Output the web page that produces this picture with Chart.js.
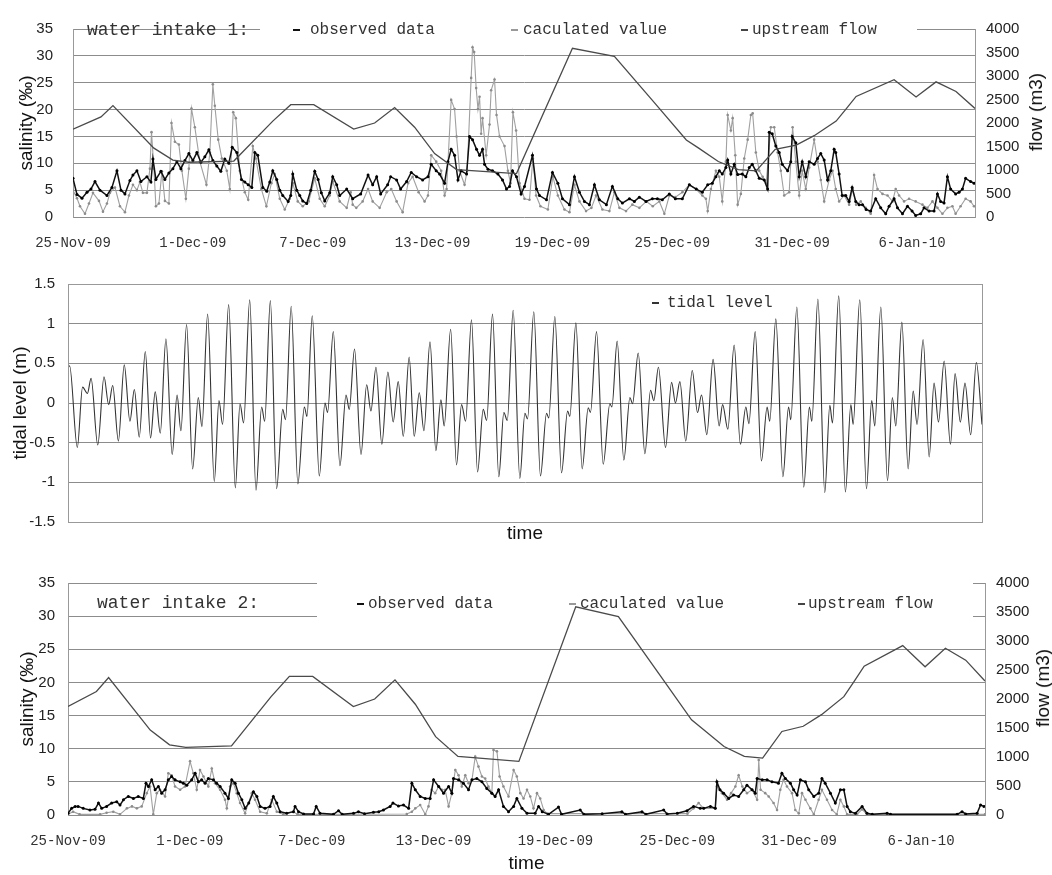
<!DOCTYPE html>
<html>
<head>
<meta charset="utf-8">
<script src="https://cdn.jsdelivr.net/npm/chart.js@4.4.1/dist/chart.umd.min.js"></script>
<style>
  body { margin: 0; background: #fff; }
  #wrap { position: relative; width: 1052px; height: 875px; overflow: hidden; }
  canvas { position: absolute; left: 0; }
  .lg { position: absolute; font-family: "Liberation Mono", "DejaVu Sans Mono", monospace; font-size: 16px; line-height: 20px; color: #333; white-space: nowrap; }
  .big { font-size: 18px; line-height: 22px; color: #333; }
  .mk { position: absolute; height: 2px; }
  .ttl { position: absolute; font-family: "Liberation Sans", Arial, sans-serif; font-size: 19px; color: #111; white-space: nowrap; transform: translate(-50%, -50%) rotate(-90deg); }
</style>
</head>
<body>
<div id="wrap">
  <canvas id="c1" width="1052" height="256" style="top:0"></canvas>
  <canvas id="c2" width="1052" height="300" style="top:256px"></canvas>
  <canvas id="c3" width="1052" height="315" style="top:560px"></canvas>

  <div class="lg big" style="left:87px;top:19px">water intake 1:</div>
  <div class="mk" style="left:293px;top:29px;width:7px;background:#111"></div>
  <div class="lg" style="left:310px;top:20px">observed data</div>
  <div class="mk" style="left:511px;top:29px;width:7px;background:#999"></div>
  <div class="lg" style="left:523px;top:20px">caculated value</div>
  <div class="mk" style="left:741px;top:29px;width:7px;background:#444"></div>
  <div class="lg" style="left:752px;top:20px">upstream flow</div>
  <div class="ttl" style="left:1036px;top:112px">flow (m3)</div>

  <div class="mk" style="left:652px;top:302px;width:7px;background:#333"></div>
  <div class="lg" style="left:667px;top:293px">tidal level</div>

  <div class="lg big" style="left:97px;top:592px">water intake 2:</div>
  <div class="mk" style="left:357px;top:603px;width:7px;background:#111"></div>
  <div class="lg" style="left:368px;top:594px">observed data</div>
  <div class="mk" style="left:569px;top:603px;width:7px;background:#999"></div>
  <div class="lg" style="left:580px;top:594px">caculated value</div>
  <div class="mk" style="left:798px;top:603px;width:7px;background:#444"></div>
  <div class="lg" style="left:808px;top:594px">upstream flow</div>
  <div class="ttl" style="left:1043px;top:688px">flow (m3)</div>
</div>

<script>
// x values are days after 25-Nov-09 00:00
const dayTicks = [0, 6, 12, 18, 24, 30, 36, 42];
const dayLabels = ['25-Nov-09', '1-Dec-09', '7-Dec-09', '13-Dec-09', '19-Dec-09', '25-Dec-09', '31-Dec-09', '6-Jan-10'];

// upstream flow (m3), same record in both intake panels
const flow = [[0,1870],[1.4,2130],[2.0,2370],[4.05,1465],[5.0,1210],[5.8,1165],[8.05,1190],[10.0,2040],[10.9,2390],
  [12.05,2390],[14.05,1870],[15.1,2000],[16.1,2330],[17.1,1910],[18.1,1350],[19.2,1010],[22.2,925],[25.0,3590],
  [27.1,3420],[29.1,2435],[30.7,1640],[31.3,1470],[32.3,1180],[33.3,1010],[34.2,980],[35.15,1440],[36.2,1530],
  [37.1,1730],[38.2,2040],[38.7,2300],[39.2,2565],[41.1,2920],[42.2,2555],[43.2,2875],[44.2,2670],[45.15,2310]];

// water intake 1 salinity
const obs1 = [[0,7.2],[0.2,4.2],[0.45,3.5],[0.7,4.6],[0.9,5.2],[1.1,6.6],[1.35,5.0],[1.7,4.0],[1.95,5.5],[2.2,8.6],
  [2.4,5.0],[2.6,4.3],[2.85,6.8],[3.0,7.8],[3.2,8.6],[3.4,6.6],[3.7,7.5],[3.9,6.5],[4.0,10.8],[4.15,7.0],[4.4,8.5],
  [4.6,7.0],[4.8,8.2],[5.0,9.0],[5.2,10.3],[5.4,9.0],[5.6,10.5],[5.8,11.8],[6.0,10.5],[6.2,12.0],[6.4,10.2],[6.6,11.2],
  [6.8,12.5],[7.0,10.5],[7.2,9.5],[7.4,8.5],[7.6,10.8],[7.8,10.0],[7.97,13.0],[8.2,12.0],[8.43,7.0],[8.6,6.5],[8.77,6.0],
  [8.95,5.5],[9.1,12.0],[9.25,11.5],[9.5,5.5],[9.7,4.8],[9.85,6.5],[10.0,8.6],[10.2,7.0],[10.35,5.0],[10.5,4.0],
  [10.77,2.9],[10.9,4.0],[11.0,8.0],[11.2,5.0],[11.35,4.0],[11.5,3.0],[11.7,2.5],[11.9,5.0],[12.1,8.5],[12.27,7.0],
  [12.43,4.5],[12.6,3.0],[12.85,4.5],[13.0,7.5],[13.2,6.0],[13.35,4.0],[13.7,5.2],[14.0,3.4],[14.4,4.3],[14.77,7.8],
  [15.0,6.0],[15.2,7.5],[15.4,4.3],[15.75,6.0],[15.9,7.5],[16.2,6.9],[16.4,5.2],[16.7,6.6],[16.93,8.3],[17.2,7.5],
  [17.5,6.9],[17.77,7.5],[17.93,9.8],[18.18,8.6],[18.35,8.0],[18.6,6.3],[18.77,10.3],[18.93,12.6],[19.1,11.5],
  [19.27,6.9],[19.43,8.6],[19.7,8.0],[19.85,15.0],[20.0,14.4],[20.2,12.6],[20.35,11.5],[20.5,12.6],[20.6,9.8],
  [20.77,8.9],[21.0,8.6],[21.27,8.0],[21.5,6.9],[21.7,5.2],[21.85,5.7],[22.0,8.6],[22.2,7.5],[22.43,4.3],[22.6,5.7],
  [23.0,11.5],[23.2,5.2],[23.35,4.0],[23.7,3.2],[24.0,8.3],[24.27,6.3],[24.5,3.4],[24.85,2.3],[25.1,7.5],[25.35,4.6],
  [25.6,2.9],[25.85,2.3],[26.1,6.0],[26.35,3.2],[26.7,2.3],[27.0,5.7],[27.27,3.4],[27.5,2.6],[27.85,3.4],[28.1,2.9],
  [28.35,3.7],[28.68,2.9],[29.0,3.4],[29.25,3.4],[29.5,3.2],[29.85,4.3],[30.15,3.4],[30.5,3.4],[30.85,6.0],[31.2,5.2],
  [31.5,4.6],[31.77,6.0],[32.0,6.3],[32.18,7.5],[32.35,8.6],[32.5,8.0],[32.68,9.2],[32.77,10.6],[32.93,8.0],[33.1,9.8],
  [33.27,7.9],[33.5,8.0],[33.68,7.5],[33.85,9.2],[34.0,9.8],[34.18,8.6],[34.35,7.2],[34.6,6.9],[34.77,5.2],[34.85,15.8],
  [35.0,15.5],[35.18,13.2],[35.35,12.0],[35.5,9.8],[35.77,8.6],[35.93,10.3],[36.0,15.0],[36.18,13.8],[36.35,7.5],
  [36.5,10.3],[36.68,7.5],[36.85,10.3],[37.1,9.8],[37.27,10.9],[37.43,11.8],[37.6,10.6],[37.77,6.9],[37.93,8.6],
  [38.1,12.6],[38.18,12.0],[38.35,8.0],[38.5,4.0],[38.68,4.0],[38.85,2.9],[39.0,5.5],[39.18,2.9],[39.35,2.3],[39.52,2.3],
  [39.7,1.4],[39.93,1.1],[40.18,3.4],[40.43,1.7],[40.68,0.6],[40.85,2.0],[41.1,3.4],[41.27,1.7],[41.52,0.6],[41.77,2.0],
  [42.0,1.1],[42.18,0.3],[42.43,0.6],[42.6,1.7],[42.85,1.1],[43.1,1.1],[43.27,4.3],[43.43,2.9],[43.6,2.6],[43.77,7.5],
  [43.93,5.2],[44.18,4.3],[44.35,4.6],[44.52,5.2],[44.68,7.2],[44.93,6.6],[45.1,6.3]];

const calc1 = [[0,5.0],[0.2,3.5],[0.35,2.0],[0.6,0.6],[0.8,2.5],[1.0,4.5],[1.3,3.0],[1.5,1.0],[1.7,2.5],[1.85,4.5],
  [2.1,5.5],[2.35,2.0],[2.6,0.9],[2.8,4.0],[3.0,6.0],[3.2,5.0],[3.35,6.5],[3.5,4.5],[3.7,4.5],[3.85,9.0],[3.93,15.8],
  [4.05,9.0],[4.15,2.0],[4.3,2.5],[4.45,8.5],[4.6,3.0],[4.8,2.5],[4.93,17.5],[5.1,14.0],[5.3,13.5],[5.45,8.6],[5.65,3.4],
  [5.8,9.0],[5.93,20.2],[6.1,16.7],[6.35,10.3],[6.68,6.0],[6.85,12.0],[7.0,24.7],[7.1,20.7],[7.27,14.4],[7.45,10.9],
  [7.7,8.6],[7.85,5.2],[8.02,19.5],[8.15,18.4],[8.35,8.6],[8.6,4.6],[8.77,3.2],[9.0,13.2],[9.15,10.9],[9.43,5.2],
  [9.68,2.0],[9.93,6.3],[10.1,8.0],[10.35,3.4],[10.6,1.4],[10.85,3.4],[11.0,6.3],[11.25,2.9],[11.5,2.0],[11.8,2.9],
  [12.1,7.2],[12.35,3.4],[12.6,2.0],[12.85,4.0],[13.0,6.6],[13.35,2.9],[13.7,1.7],[13.9,4.6],[14.0,2.3],[14.18,1.7],
  [14.5,2.9],[14.77,5.2],[15.0,2.9],[15.35,1.7],[15.7,4.6],[15.93,5.2],[16.2,2.9],[16.5,0.9],[16.77,6.3],[17.0,7.5],
  [17.3,4.6],[17.6,2.9],[17.77,4.0],[17.93,11.5],[18.18,10.3],[18.43,8.6],[18.6,4.0],[18.7,5.2],[18.93,21.8],[19.1,20.1],
  [19.2,15.0],[19.35,8.6],[19.6,6.0],[19.73,8.6],[19.93,25.9],[20.0,31.6],[20.08,30.7],[20.18,24.0],[20.27,20.1],
  [20.35,22.4],[20.43,15.5],[20.5,18.4],[20.68,11.5],[20.85,17.2],[20.93,23.6],[21.1,25.6],[21.2,19.0],[21.35,15.0],
  [21.6,13.2],[21.77,8.6],[21.9,6.3],[22.02,19.5],[22.18,16.1],[22.35,6.3],[22.6,3.4],[22.85,3.2],[23.02,10.9],[23.18,4.0],
  [23.4,2.0],[23.77,1.4],[24.02,7.5],[24.27,4.0],[24.6,1.4],[24.85,0.9],[25.1,6.0],[25.35,2.9],[25.68,1.1],[25.95,1.7],
  [26.18,4.0],[26.5,1.4],[26.85,1.1],[27.1,4.6],[27.35,1.7],[27.68,1.1],[28.0,2.3],[28.35,1.7],[28.7,2.9],[29.02,2.0],
  [29.35,2.9],[29.6,0.6],[29.85,4.0],[30.15,3.7],[30.5,4.6],[30.85,6.0],[31.18,5.2],[31.5,4.0],[31.68,3.4],[31.77,1.1],
  [31.93,5.2],[32.18,8.6],[32.35,7.5],[32.5,2.9],[32.68,10.3],[32.77,19.0],[32.93,16.1],[33.02,18.4],[33.15,11.5],
  [33.27,2.3],[33.43,4.3],[33.6,10.9],[33.77,14.4],[33.93,19.0],[34.02,19.3],[34.18,12.0],[34.35,8.6],[34.52,7.5],
  [34.7,6.3],[34.93,16.7],[35.1,16.7],[35.27,12.0],[35.43,8.6],[35.6,4.0],[35.85,4.6],[36.02,16.7],[36.18,10.3],
  [36.35,4.0],[36.5,8.6],[36.68,5.2],[36.85,9.2],[37.1,14.4],[37.27,10.3],[37.43,6.9],[37.6,2.9],[37.85,6.9],[38.02,8.6],
  [38.18,5.2],[38.35,2.9],[38.6,4.0],[38.85,2.3],[39.02,5.2],[39.2,2.3],[39.43,2.9],[39.68,1.7],[39.93,0.6],[40.1,7.8],
  [40.27,5.2],[40.52,4.3],[40.77,4.0],[41.02,2.9],[41.18,5.2],[41.35,4.0],[41.6,2.9],[41.85,3.4],[42.18,2.9],[42.52,2.3],
  [42.77,1.7],[43.02,2.9],[43.27,1.7],[43.52,0.6],[43.77,1.7],[44.02,2.0],[44.18,0.6],[44.43,2.0],[44.68,3.4],[44.93,2.9],
  [45.1,2.0]];

// tidal level (m): highs and lows of the record
const tide = [[0,0.44],[0.08,0.47],[0.46,-0.56],[0.72,0.20],[0.96,0.12],[1.14,0.31],[1.47,-0.53],[1.78,0.33],[2.01,-0.02],
  [2.21,0.22],[2.49,-0.48],[2.78,0.48],[3.06,-0.23],[3.28,0.17],[3.52,-0.43],[3.82,0.65],[4.08,-0.44],[4.31,0.14],
  [4.56,-0.38],[4.84,0.81],[5.15,-0.65],[5.39,0.10],[5.58,-0.35],[5.86,0.99],[6.16,-0.83],[6.44,0.07],[6.62,-0.30],
  [6.90,1.12],[7.23,-0.99],[7.46,0.03],[7.64,-0.27],[7.94,1.24],[8.27,-1.07],[8.50,-0.01],[8.68,-0.25],[8.98,1.30],
  [9.29,-1.10],[9.57,-0.05],[9.72,-0.23],[10.00,1.29],[10.31,-1.08],[10.61,-0.08],[10.75,-0.21],[11.03,1.22],[11.36,-1.02],
  [11.68,-0.05],[11.81,-0.17],[12.07,1.10],[12.42,-0.92],[12.70,0.00],[12.83,-0.12],[13.11,0.90],[13.44,-0.79],[13.74,0.10],
  [13.90,-0.08],[14.16,0.68],[14.48,-0.65],[14.76,0.23],[14.97,-0.10],[15.22,0.45],[15.51,-0.52],[15.81,0.39],[16.07,-0.24],
  [16.32,0.27],[16.57,-0.42],[16.86,0.58],[17.11,-0.42],[17.36,0.13],[17.59,-0.35],[17.89,0.77],[18.18,-0.60],[18.43,0.04],
  [18.59,-0.29],[18.91,0.93],[19.20,-0.78],[19.45,-0.02],[19.65,-0.23],[19.94,1.05],[20.24,-0.87],[20.52,-0.08],[20.69,-0.22],
  [20.98,1.12],[21.29,-0.93],[21.54,-0.12],[21.71,-0.22],[22.00,1.17],[22.33,-0.95],[22.58,-0.13],[22.71,-0.20],[23.02,1.15],
  [23.35,-0.92],[23.65,-0.13],[23.76,-0.19],[24.06,1.09],[24.39,-0.88],[24.69,-0.10],[24.80,-0.17],[25.10,1.01],[25.41,-0.83],
  [25.71,-0.06],[25.82,-0.12],[26.12,0.90],[26.45,-0.77],[26.78,-0.01],[26.88,-0.05],[27.14,0.78],[27.47,-0.72],[27.77,0.07],
  [27.90,-0.01],[28.18,0.63],[28.51,-0.64],[28.79,0.16],[28.95,0.03],[29.18,0.45],[29.53,-0.56],[29.83,0.26],[30.02,0.00],
  [30.24,0.27],[30.53,-0.48],[30.85,0.41],[31.11,-0.12],[31.31,0.10],[31.57,-0.40],[31.88,0.55],[32.18,-0.29],[32.35,-0.02],
  [32.61,-0.33],[32.92,0.73],[33.23,-0.52],[33.50,-0.05],[33.65,-0.26],[33.96,0.90],[34.27,-0.73],[34.55,-0.05],[34.68,-0.23],
  [34.98,1.06],[35.33,-0.93],[35.61,-0.05],[35.72,-0.21],[36.02,1.21],[36.36,-1.06],[36.64,-0.05],[36.76,-0.23],[37.06,1.31],
  [37.40,-1.13],[37.65,-0.03],[37.78,-0.25],[38.09,1.35],[38.42,-1.12],[38.69,-0.02],[38.80,-0.27],[39.13,1.30],[39.46,-1.08],
  [39.72,0.03],[39.87,-0.29],[40.17,1.21],[40.50,-0.98],[40.74,0.07],[40.91,-0.29],[41.21,1.02],[41.52,-0.83],[41.77,0.15],
  [41.96,-0.27],[42.26,0.80],[42.56,-0.68],[42.80,0.25],[43.02,-0.24],[43.30,0.53],[43.61,-0.52],[43.84,0.37],[44.10,-0.24],
  [44.33,0.25],[44.61,-0.40],[44.89,0.51],[45.17,-0.27]];

// water intake 2 salinity
const obs2 = [[0,0.25],[0.18,1.0],[0.35,1.3],[0.5,1.3],[0.75,1.0],[1.08,0.75],[1.33,0.85],[1.5,1.8],[1.66,1.0],[1.9,1.3],
  [2.15,1.8],[2.4,2.0],[2.56,1.5],[2.73,2.3],[2.97,2.8],[3.22,2.5],[3.46,2.8],[3.71,2.5],[3.84,4.8],[3.96,4.3],[4.12,5.3],
  [4.29,3.8],[4.45,4.3],[4.61,3.3],[4.78,3.8],[4.94,5.3],[5.1,5.8],[5.27,5.3],[5.52,5.0],[5.68,4.8],[5.85,4.5],[6.09,5.3],
  [6.26,6.3],[6.42,5.0],[6.58,5.3],[6.75,4.8],[6.91,5.5],[7.16,5.3],[7.32,4.8],[7.49,4.3],[7.73,3.3],[7.9,2.5],[8.06,5.3],
  [8.23,4.8],[8.39,3.3],[8.56,2.3],[8.72,1.0],[8.9,1.8],[9.13,3.5],[9.3,2.8],[9.46,1.3],[9.7,1.0],[9.95,1.3],[10.11,2.8],
  [10.28,1.8],[10.44,0.5],[10.77,0.25],[11.1,0.5],[11.18,1.3],[11.35,0.5],[11.6,0.15],[12.09,0.15],[12.22,1.3],[12.41,0.25],
  [13.07,0.1],[13.32,0.65],[13.5,0.1],[14.06,0.25],[14.3,0.5],[14.6,0.2],[15.04,0.4],[15.3,0.5],[15.53,0.75],[15.86,1.3],
  [16.0,1.8],[16.27,1.35],[16.52,1.5],[16.77,1.0],[16.93,4.8],[17.1,3.8],[17.34,2.8],[17.59,2.5],[17.83,2.5],[18.0,5.3],
  [18.25,4.3],[18.49,3.3],[18.74,4.3],[18.9,3.3],[18.98,5.5],[19.23,5.3],[19.47,4.8],[19.72,3.8],[19.89,5.3],[20.13,5.5],
  [20.38,5.0],[20.62,4.0],[20.87,3.3],[21.03,2.8],[21.2,3.8],[21.44,1.3],[21.69,0.5],[21.94,1.3],[22.1,2.5],[22.35,1.0],
  [22.6,0.25],[23.0,0.25],[23.17,1.3],[23.35,0.5],[23.66,0.1],[24.15,1.2],[24.3,0.1],[25.22,0.75],[25.4,0.1],[26.3,0.2],
  [27.27,0.5],[27.45,0.1],[28.26,0.5],[28.45,0.1],[29.33,0.75],[29.5,0.15],[30.0,0.25],[30.48,0.65],[30.8,1.3],[31.13,1.0],
  [31.3,1.0],[31.63,1.3],[31.87,1.0],[31.95,5.0],[32.1,3.8],[32.28,3.3],[32.53,2.5],[32.77,3.0],[33.02,2.8],[33.27,3.8],
  [33.43,4.5],[33.68,3.8],[33.84,3.3],[33.93,5.5],[34.18,5.3],[34.42,5.3],[34.66,5.0],[34.98,4.8],[35.15,6.3],[35.32,5.5],
  [35.57,4.8],[35.73,3.8],[35.9,3.0],[36.06,5.3],[36.31,5.0],[36.47,3.8],[36.72,2.8],[36.96,3.3],[37.12,5.5],[37.28,4.8],
  [37.54,3.3],[37.78,1.8],[38.03,3.8],[38.2,3.8],[38.36,1.3],[38.52,0.5],[38.77,0.25],[39.1,1.3],[39.34,0.25],[39.6,0.1],
  [40.33,0.25],[40.5,0.1],[43.78,0.1],[44.02,0.5],[44.2,0.15],[44.76,0.25],[44.93,1.5],[45.1,1.3]];

const calc2 = [[0,0.1],[0.25,0.5],[0.57,0.1],[1.58,0.1],[1.9,0.35],[2.23,0.5],[2.56,0.1],[2.9,1.0],[3.15,1.3],[3.39,1.0],
  [3.63,1.3],[3.88,3.3],[4.04,4.3],[4.2,0.1],[4.37,3.3],[4.53,3.8],[4.78,2.8],[4.94,6.3],[5.1,6.0],[5.27,4.3],[5.52,3.8],
  [5.76,4.3],[6.01,8.1],[6.17,6.3],[6.34,3.8],[6.5,6.8],[6.67,5.8],[6.91,4.3],[7.08,7.0],[7.24,4.8],[7.49,3.8],[7.73,2.3],
  [7.82,1.0],[7.98,4.3],[8.14,4.8],[8.31,3.3],[8.47,1.8],[8.72,0.25],[9.05,3.3],[9.21,2.3],[9.46,0.5],[9.79,0.25],[10.03,2.3],
  [10.28,0.5],[10.6,0.1],[11.1,0.5],[11.3,0.1],[16.68,0.15],[16.93,0.5],[17.1,1.0],[17.34,1.5],[17.59,0.1],[17.75,1.3],
  [17.9,3.8],[18.08,3.3],[18.25,4.3],[18.41,3.8],[18.57,3.8],[18.74,1.3],[18.9,3.3],[19.07,6.8],[19.23,6.0],[19.39,4.3],
  [19.56,6.0],[19.72,4.8],[19.89,5.3],[20.05,8.8],[20.21,7.3],[20.38,5.8],[20.54,5.5],[20.7,4.3],[20.87,3.3],[20.95,9.8],
  [21.12,9.6],[21.25,5.8],[21.44,4.3],[21.69,2.8],[21.94,6.8],[22.1,5.8],[22.27,3.3],[22.43,2.5],[22.6,3.8],[22.76,2.8],
  [22.92,1.0],[23.09,3.3],[23.25,2.5],[23.42,0.75],[23.6,0.2],[30.5,0.2],[30.8,1.0],[31.05,1.8],[31.3,1.0],[31.87,1.0],
  [31.95,4.3],[32.2,3.3],[32.45,2.3],[32.65,3.3],[32.86,4.3],[33.02,6.0],[33.2,4.3],[33.43,3.3],[33.68,3.8],[33.93,2.3],
  [34.01,8.3],[34.1,3.8],[34.33,3.3],[34.5,2.8],[34.74,1.8],[34.91,0.75],[35.07,3.8],[35.23,5.3],[35.4,4.3],[35.65,3.3],
  [35.81,0.75],[35.98,0.25],[36.14,3.3],[36.31,2.3],[36.55,1.0],[36.72,0.1],[36.96,2.3],[37.12,3.8],[37.37,2.3],[37.62,0.75],
  [37.85,0.1],[38.03,2.3],[38.2,1.3],[38.36,0.1],[38.85,0.1],[39.1,0.85],[39.34,0.1],[45.15,0.1]];

const SANS = '"Liberation Sans", Arial, sans-serif';
const MONO = '"Liberation Mono", "DejaVu Sans Mono", monospace';
Chart.defaults.font.family = SANS;
Chart.defaults.color = '#222';

// white legend band: drawn over the grid but under the lines
const legendBand = {
  id: 'legendBand',
  beforeDatasetsDraw(chart, args, opts) {
    if (!opts.rect) return;
    const ctx = chart.ctx;
    ctx.save();
    ctx.fillStyle = '#fff';
    ctx.fillRect(...opts.rect);
    ctx.restore();
  }
};
const frame = {
  id: 'frame',
  afterDraw(chart, args, opts) {
    if (!opts.on) return;
    const a = chart.chartArea, ctx = chart.ctx;
    ctx.save();
    ctx.strokeStyle = '#999';
    ctx.lineWidth = 1;
    ctx.strokeRect(Math.round(a.left) + 0.5, Math.round(a.top) + 0.5, Math.round(a.right - a.left), Math.round(a.bottom - a.top));
    ctx.restore();
  }
};

function salinityChart(id, obs, calc, g) {
  return new Chart(document.getElementById(id), {
    type: 'line',
    data: {
      datasets: [
        { label: 'upstream flow', data: flow, yAxisID: 'y1', borderColor: '#4a4a4a', borderWidth: 1.3, pointRadius: 0, tension: 0 },
        { label: 'observed data', data: obs, yAxisID: 'y', borderColor: '#111', borderWidth: 1.5,
          pointRadius: 1.5, pointBackgroundColor: '#000', pointBorderWidth: 0 },
        { label: 'caculated value', data: calc, yAxisID: 'y', borderColor: '#a0a0a0', borderWidth: 1.1,
          pointRadius: 1.3, pointBackgroundColor: '#8c8c8c', pointBorderWidth: 0 }
      ]
    },
    plugins: [legendBand],
    options: {
      responsive: false, devicePixelRatio: 1, animation: false,
      layout: { padding: { top: g.top, left: 0, right: 0, bottom: 0 } },
      plugins: { legend: { display: false }, tooltip: { enabled: false }, legendBand: { rect: g.band } },
      scales: {
        x: {
          type: 'linear', min: 0, max: 45.15,
          grid: { display: false, drawTicks: false }, border: { display: false },
          afterBuildTicks: s => { s.ticks = dayTicks.map(v => ({ value: v })); },
          ticks: { autoSkip: false, maxRotation: 0, padding: 18, color: '#333', font: { family: MONO, size: 14 },
                   callback: (v, i) => dayLabels[i] },
          title: { display: g.time, text: 'time', color: '#111', font: { size: 19 }, padding: { top: 0, bottom: 0 } },
          afterFit: s => { s.height = g.xh; }
        },
        y: {
          position: 'left', min: 0, max: 35,
          ticks: { stepSize: 5, padding: g.tp, font: { size: 15 }, callback: v => String(v) },
          grid: { color: '#8c8c8c', drawTicks: false }, border: { color: '#999' },
          title: { display: true, text: 'salinity (‰)', color: '#111', font: { size: 19 }, padding: { top: g.tt, bottom: 0 } },
          afterFit: s => { s.width = g.left; }
        },
        y1: {
          position: 'right', min: 0, max: 4000,
          ticks: { stepSize: 500, padding: 11, font: { size: 15 }, callback: v => String(v) },
          grid: { drawOnChartArea: false, drawTicks: false }, border: { color: '#999' },
          afterFit: s => { s.width = 1052 - g.right; }
        }
      }
    }
  });
}

salinityChart('c1', obs1, calc1, { top: 14, xh: 39, left: 73, right: 975, tp: 20, tt: 15, time: false, band: [260, 6, 657, 44] });
salinityChart('c3', obs2, calc2, { top: 23, xh: 60, left: 68, right: 985, tp: 13, tt: 16, time: true, band: [317, 18, 656, 47] });

new Chart(document.getElementById('c2'), {
  type: 'line',
  data: { datasets: [{ label: 'tidal level', data: tide, borderColor: '#333', borderWidth: 1.1, pointRadius: 0,
                       cubicInterpolationMode: 'monotone' }] },
  plugins: [frame],
  options: {
    responsive: false, devicePixelRatio: 1, animation: false,
    layout: { padding: { top: 28, right: 70, left: 0, bottom: 0 } },
    plugins: { legend: { display: false }, tooltip: { enabled: false }, frame: { on: true } },
    scales: {
      x: {
        type: 'linear', min: 0, max: 45.17,
        ticks: { display: false }, grid: { display: false, drawTicks: false }, border: { display: false },
        title: { display: true, text: 'time', color: '#111', font: { size: 19 }, padding: { top: 0, bottom: 11 } },
        afterFit: s => { s.height = 34; }
      },
      y: {
        min: -1.5, max: 1.5,
        ticks: { stepSize: 0.5, padding: 13, font: { size: 15 }, callback: v => String(v) },
        grid: { color: '#8c8c8c', drawTicks: false }, border: { color: '#999' },
        title: { display: true, text: 'tidal level (m)', color: '#111', font: { size: 19 }, padding: { top: 9, bottom: 0 } },
        afterFit: s => { s.width = 68; }
      }
    }
  }
});
</script>
</body>
</html>
